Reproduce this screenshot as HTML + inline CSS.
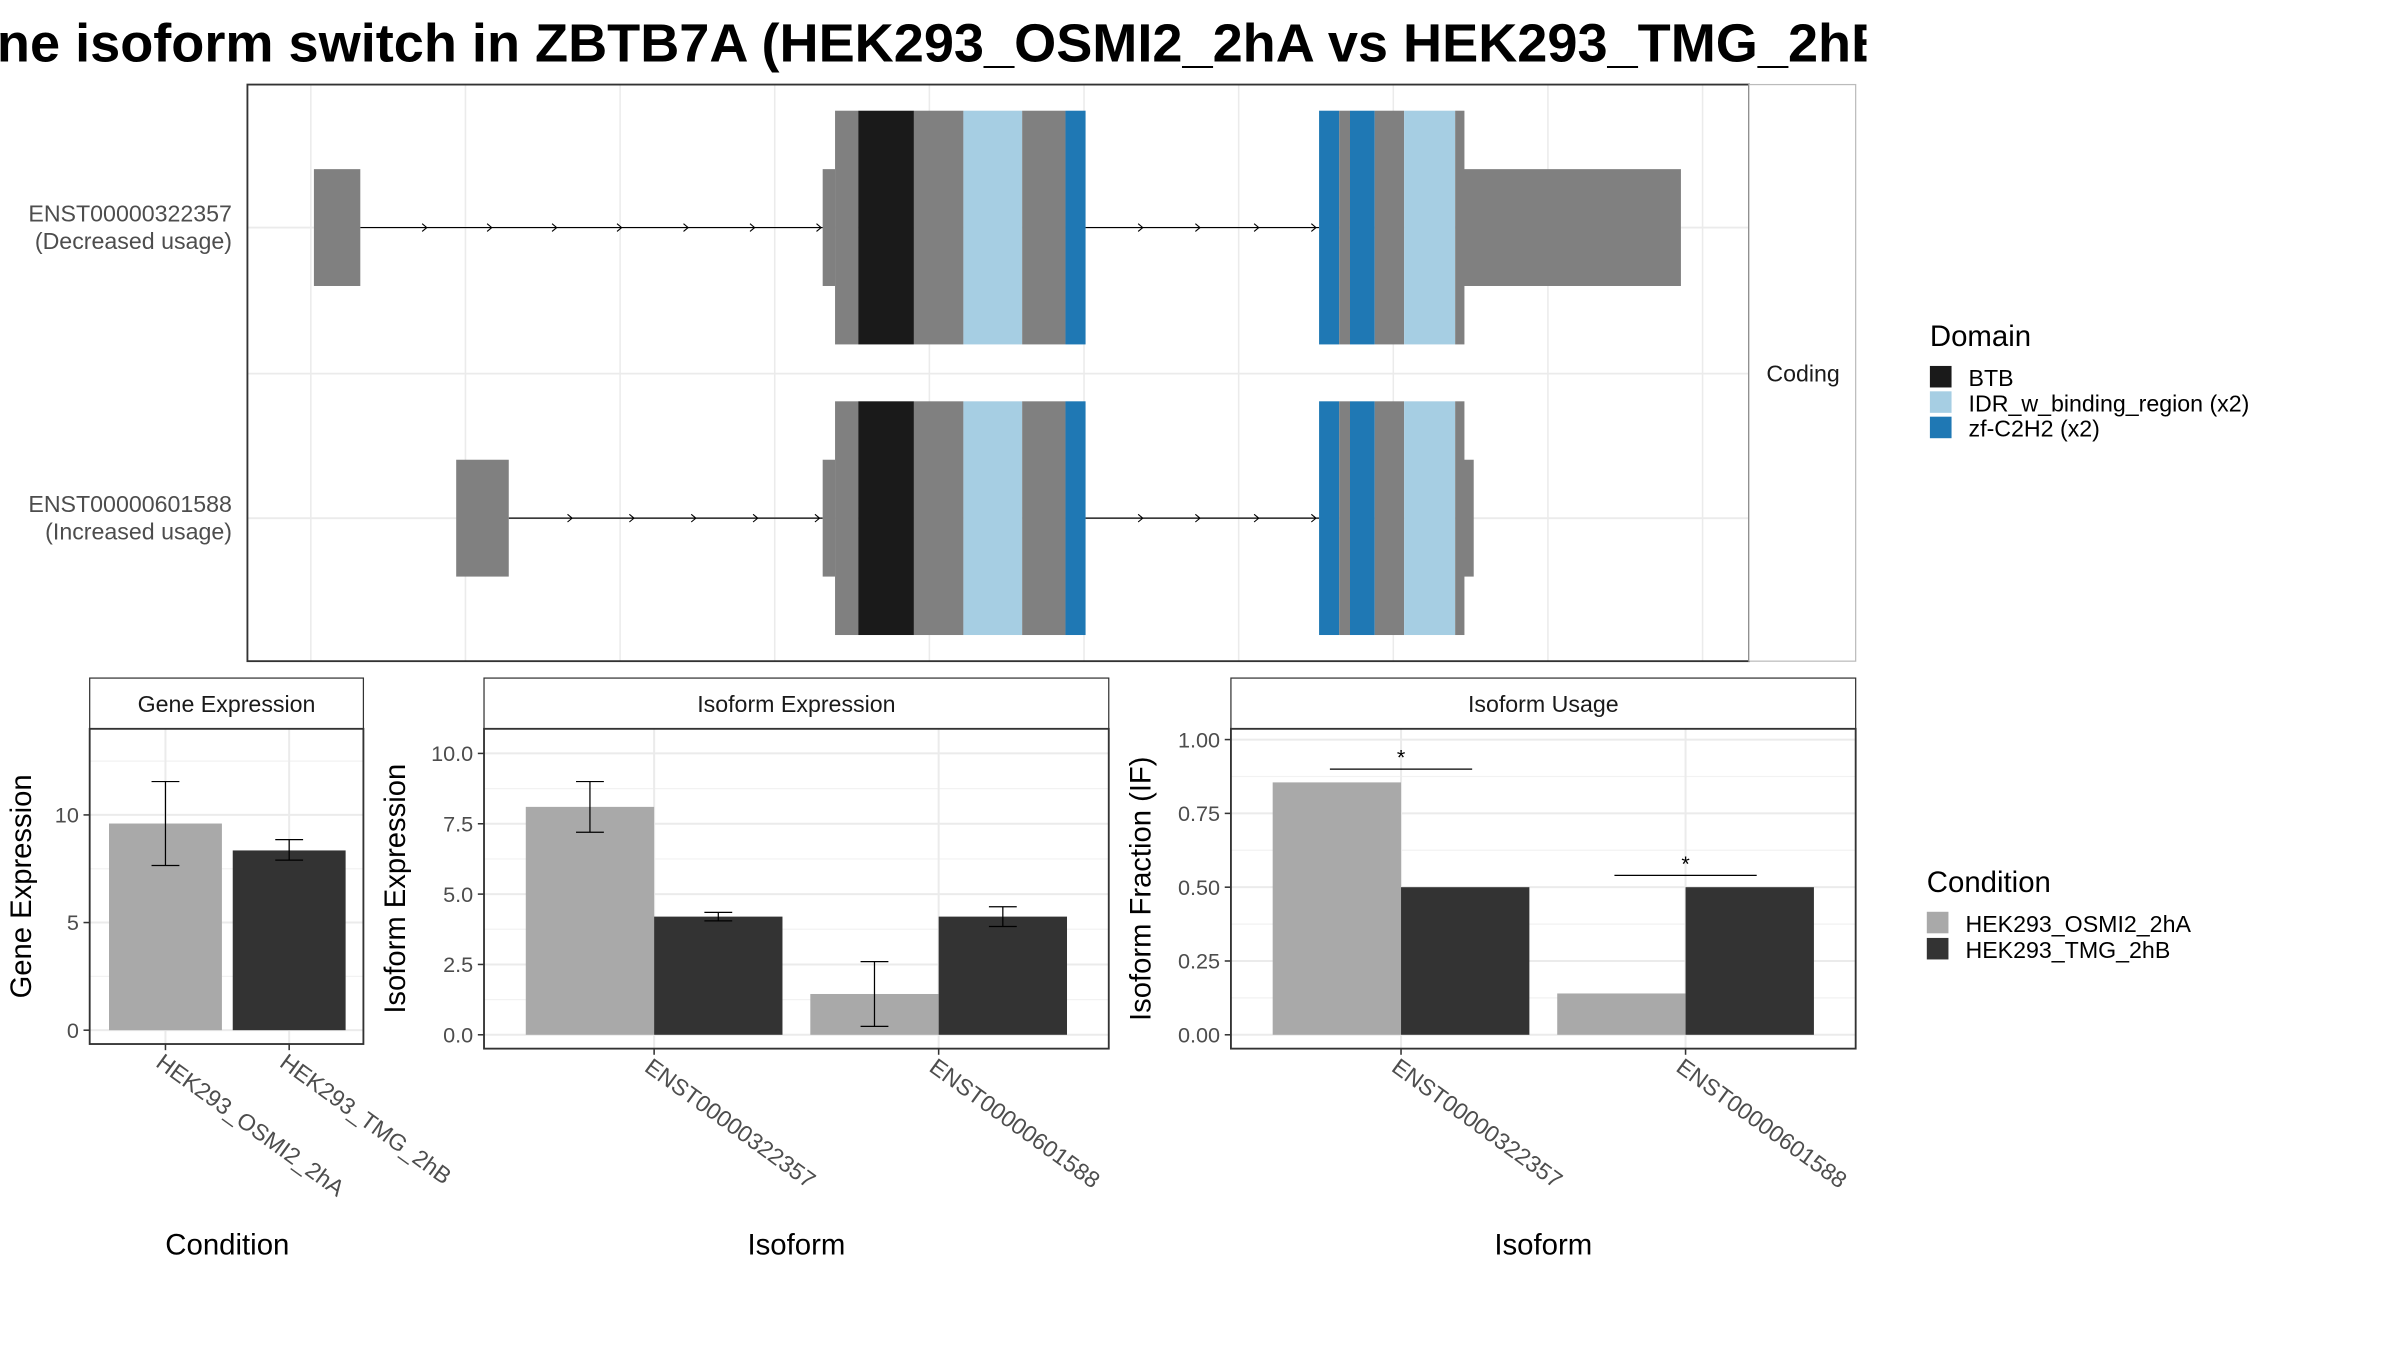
<!DOCTYPE html>
<html><head><meta charset="utf-8"><style>
html,body{margin:0;padding:0;background:#fff;}
svg{display:block;font-family:"Liberation Sans",sans-serif;}
</style></head><body>
<svg id="fig" width="2400" height="1350" viewBox="0 0 1552 878" preserveAspectRatio="none" xmlns="http://www.w3.org/2000/svg">
<defs><clipPath id="tc"><rect x="0" y="0" width="1207" height="60"/></clipPath></defs>
<rect x="0" y="0" width="1552" height="878" fill="#fff"/>
<text x="-2" y="40" font-size="35" font-weight="bold" clip-path="url(#tc)">ne isoform switch in ZBTB7A (HEK293_OSMI2_2hA vs HEK293_TMG_2hB)</text>
<g id="topPanel"></g>
<g id="ge"></g>
<g id="ie"></g>
<g id="iu"></g>
<g id="leg"></g>
</svg>
<script>
// ---- data ----
const conditions = ["HEK293_OSMI2_2hA","HEK293_TMG_2hB"];
const condColors = ["#a9a9a9","#333333"];
const isoforms = ["ENST00000322357","ENST00000601588"];
const geneExpr = [9.6, 8.35];
const geneLo = [7.65, 7.9];
const geneHi = [11.55, 8.85];
const geneTicks = [0,5,10];
const isoExprOSMI = [8.1, 1.45];
const isoExprTMG = [4.2, 4.2];
const isoLoOSMI = [7.2, 0.3];
const isoHiOSMI = [9.0, 2.6];
const isoLoTMG = [4.05, 3.85];
const isoHiTMG = [4.35, 4.55];
const isoExprTicks = [0,2.5,5,7.5,10];
const ifOSMI = [0.855, 0.14];
const ifTMG = [0.5, 0.5];
const ifSigY = [0.9, 0.54];
const ifTicks = [0,0.25,0.5,0.75,1];
const domainNames = ["BTB","IDR_w_binding_region (x2)","zf-C2H2 (x2)"];
const domainColors = ["#1a1a1a","#a6cee3","#1f78b4"];

const NS="http://www.w3.org/2000/svg";
function mk(parent,tag,attrs,txt){const e=document.createElementNS(NS,tag);for(const k in attrs)e.setAttribute(k,attrs[k]);if(txt!==undefined)e.textContent=txt;parent.appendChild(e);return e;}

// ---- top transcript panel ----
const topG=document.getElementById('topPanel');
mk(topG,'rect',{x:160,y:55,width:971,height:375,fill:'#fff',stroke:'none'});
for(let i=0;i<10;i++){mk(topG,'line',{x1:201+100*i,x2:201+100*i,y1:55,y2:430,stroke:'#ebebeb','stroke-width':1});}
[148,337].forEach(y=>mk(topG,'line',{x1:160,x2:1131,y1:y,y2:y,stroke:'#ebebeb','stroke-width':1.2}));
mk(topG,'line',{x1:160,x2:1131,y1:243,y2:243,stroke:'#ebebeb','stroke-width':1.2});
const gray="#808080";
function transcript(cy,firstX1,firstX2,tailEnd,arrows1,name){
  const g=mk(topG,'g',{});
  
  
  mk(g,'line',{x1:firstX2,x2:532,y1:cy,y2:cy,stroke:'#000','stroke-width':0.8});
  mk(g,'line',{x1:702,x2:853,y1:cy,y2:cy,stroke:'#000','stroke-width':0.8});
  arrows1.concat([739,776,814,851]).forEach(ax=>mk(g,'path',{d:`M${ax-3},${cy-2.5} L${ax},${cy} L${ax-3},${cy+2.5}`,fill:'none',stroke:'#000','stroke-width':0.7}));
  mk(g,'rect',{x:firstX1,y:cy-38,width:firstX2-firstX1,height:76,fill:gray});
  mk(g,'rect',{x:532,y:cy-38,width:8,height:76,fill:gray});
  const segs=[[540,555,gray],[555,591,domainColors[0]],[591,623,gray],[623,661,domainColors[1]],[661,689,gray],[689,702,domainColors[2]],
    [853,866,domainColors[2]],[866,873,gray],[873,889,domainColors[2]],[889,908,gray],[908,941,domainColors[1]],[941,947,gray]];
  segs.forEach(s=>mk(g,'rect',{x:s[0],y:cy-76,width:s[1]-s[0],height:152,fill:s[2]}));
  mk(g,'rect',{x:946.5,y:cy-38,width:tailEnd-946.5,height:76,fill:gray});
}
transcript(148,203,233,1087,[276,318,360,402,445,488,531],'transcript-ENST00000322357');
transcript(337,295,329,953,[370,410,450,490,530],'transcript-ENST00000601588');
mk(topG,'rect',{x:160,y:55,width:971,height:375,fill:'none',stroke:'#333','stroke-width':1.2});
mk(topG,'rect',{x:1131,y:55,width:69,height:375,fill:'#fff',stroke:'#bbb','stroke-width':0.8});
mk(topG,'text',{x:1166,y:248,'font-size':15,'text-anchor':'middle',fill:'#1a1a1a'},'Coding');
[[148,'ENST00000322357','(Decreased usage)'],[337,'ENST00000601588','(Increased usage)']].forEach(r=>{
  const t=mk(topG,'text',{x:150,y:r[0]-4,'font-size':15,'text-anchor':'end',fill:'#4d4d4d'},r[1]);
  
  
  mk(topG,'text',{x:150,y:r[0]+14,'font-size':15,'text-anchor':'end',fill:'#4d4d4d'},r[2]);
});

// ---- generic bar panel ----
function panel(g,o){
  const {x0,x1,yTop,yBot,strip,vmin,vmax,py0,py1,ticks,fmt,ytitle,ytx,cats,catx,xtitle,xtitleX}=o;
  const Y=v=>py0+(v-vmin)/(vmax-vmin)*(py1-py0);
  mk(g,'rect',{x:x0,y:441,width:x1-x0,height:33,fill:'#fff',stroke:'#333','stroke-width':0.8});
  mk(g,'text',{x:(x0+x1)/2,y:463,'font-size':15,'text-anchor':'middle',fill:'#1a1a1a'},strip);
  mk(g,'rect',{x:x0,y:yTop,width:x1-x0,height:yBot-yTop,fill:'#fff'});
  const step=ticks[1]-ticks[0];
  for(let v=ticks[0]+step/2; Y(v)>yTop; v+=step) mk(g,'line',{x1:x0,x2:x1,y1:Y(v),y2:Y(v),stroke:'#f2f2f2','stroke-width':0.8});
  ticks.forEach(v=>{
    mk(g,'line',{x1:x0,x2:x1,y1:Y(v),y2:Y(v),stroke:'#ebebeb','stroke-width':1.3});
    mk(g,'line',{x1:x0-4,x2:x0,y1:Y(v),y2:Y(v),stroke:'#333','stroke-width':1});
    const t=mk(g,'text',{x:x0-7,y:Y(v)+5,'font-size':14,'text-anchor':'end',fill:'#4d4d4d'},fmt(v));
    
    
  });
  catx.forEach((cx,i)=>{
    mk(g,'line',{x1:cx,x2:cx,y1:yTop,y2:yBot,stroke:'#ebebeb','stroke-width':1.3});
    mk(g,'line',{x1:cx,x2:cx,y1:yBot,y2:yBot+4,stroke:'#333','stroke-width':1});
    const t=mk(g,'text',{x:cx-7,y:yBot+14,'font-size':15,fill:'#4d4d4d',transform:`rotate(36 ${cx-7} ${yBot+14})`},cats[i]);
    
    
  });
  const yt=mk(g,'text',{x:ytx,y:(yTop+yBot)/2,'font-size':19,'text-anchor':'middle',fill:'#000',transform:`rotate(-90 ${ytx} ${(yTop+yBot)/2})`},ytitle);
  
  
  const xt=mk(g,'text',{x:xtitleX,y:816,'font-size':19,'text-anchor':'middle',fill:'#000'},xtitle);
  
  
  return Y;
}
function bar(g,Y,x,w,v,col,name){
  const r=mk(g,'rect',{x:x,y:Y(v),width:w,height:Y(0)-Y(v),fill:col});
  
  
}
function err(g,Y,cx,lo,hi){
  const e=mk(g,'path',{d:`M${cx-9},${Y(hi)}H${cx+9}M${cx},${Y(hi)}V${Y(lo)}M${cx-9},${Y(lo)}H${cx+9}`,stroke:'#000','stroke-width':0.8,fill:'none'});
  
  
}
function frame(g,x0,x1,yTop,yBot){mk(g,'rect',{x:x0,y:yTop,width:x1-x0,height:yBot-yTop,fill:'none',stroke:'#333','stroke-width':1.2});}

// Gene expression
const ge=document.getElementById('ge');
const Yg=panel(ge,{x0:58,x1:235,yTop:474,yBot:679,strip:'Gene Expression',vmin:0,vmax:10,py0:670,py1:530,ticks:geneTicks,fmt:v=>String(v),ytitle:'Gene Expression',ytx:20,cats:conditions,catx:[107,187],xtitle:'Condition',xtitleX:147});
const geW=73;
[107,187].forEach((cx,i)=>{bar(ge,Yg,cx-geW/2,geW,geneExpr[i],condColors[i],'bar-gene-'+conditions[i]);err(ge,Yg,cx,geneLo[i],geneHi[i]);});
frame(ge,58,235,474,679);

// Isoform expression
const ie=document.getElementById('ie');
const Yi=panel(ie,{x0:313,x1:717,yTop:474,yBot:682,strip:'Isoform Expression',vmin:0,vmax:10,py0:673,py1:490,ticks:isoExprTicks,fmt:v=>v.toFixed(1),ytitle:'Isoform Expression',ytx:262,cats:isoforms,catx:[423,607],xtitle:'Isoform',xtitleX:515});
const bw=83;
[423,607].forEach((cx,i)=>{
  bar(ie,Yi,cx-bw,bw,isoExprOSMI[i],condColors[0],'bar-expr-osmi-'+isoforms[i]);
  bar(ie,Yi,cx,bw,isoExprTMG[i],condColors[1],'bar-expr-tmg-'+isoforms[i]);
  err(ie,Yi,cx-bw/2,isoLoOSMI[i],isoHiOSMI[i]);
  err(ie,Yi,cx+bw/2,isoLoTMG[i],isoHiTMG[i]);
});
frame(ie,313,717,474,682);

// Isoform usage
const iu=document.getElementById('iu');
const Yu=panel(iu,{x0:796,x1:1200,yTop:474,yBot:682,strip:'Isoform Usage',vmin:0,vmax:1,py0:673,py1:481,ticks:ifTicks,fmt:v=>v.toFixed(2),ytitle:'Isoform Fraction (IF)',ytx:744,cats:isoforms,catx:[906,1090],xtitle:'Isoform',xtitleX:998});
[906,1090].forEach((cx,i)=>{
  bar(iu,Yu,cx-bw,bw,ifOSMI[i],condColors[0],'bar-if-osmi-'+isoforms[i]);
  bar(iu,Yu,cx,bw,ifTMG[i],condColors[1],'bar-if-tmg-'+isoforms[i]);
  const s=mk(iu,'line',{x1:cx-46,x2:cx+46,y1:Yu(ifSigY[i]),y2:Yu(ifSigY[i]),stroke:'#000','stroke-width':0.8});
  
  
  mk(iu,'text',{x:cx,y:Yu(ifSigY[i])-3,'font-size':14,'text-anchor':'middle'},'*');
});
frame(iu,796,1200,474,682);

// Legends
const leg=document.getElementById('leg');
mk(leg,'text',{x:1248,y:225,'font-size':19},'Domain');
domainNames.forEach((n,i)=>{
  const r=mk(leg,'rect',{x:1248,y:238+i*16.5,width:14,height:14,fill:domainColors[i]});
  
  
  mk(leg,'text',{x:1273,y:251+i*16.5,'font-size':15},n);
});
mk(leg,'text',{x:1246,y:580,'font-size':19},'Condition');
conditions.forEach((n,i)=>{
  const r=mk(leg,'rect',{x:1246,y:593+i*17,width:14,height:14,fill:condColors[i]});
  
  
  mk(leg,'text',{x:1271,y:606+i*17,'font-size':15},n);
});
</script>
</body></html>
